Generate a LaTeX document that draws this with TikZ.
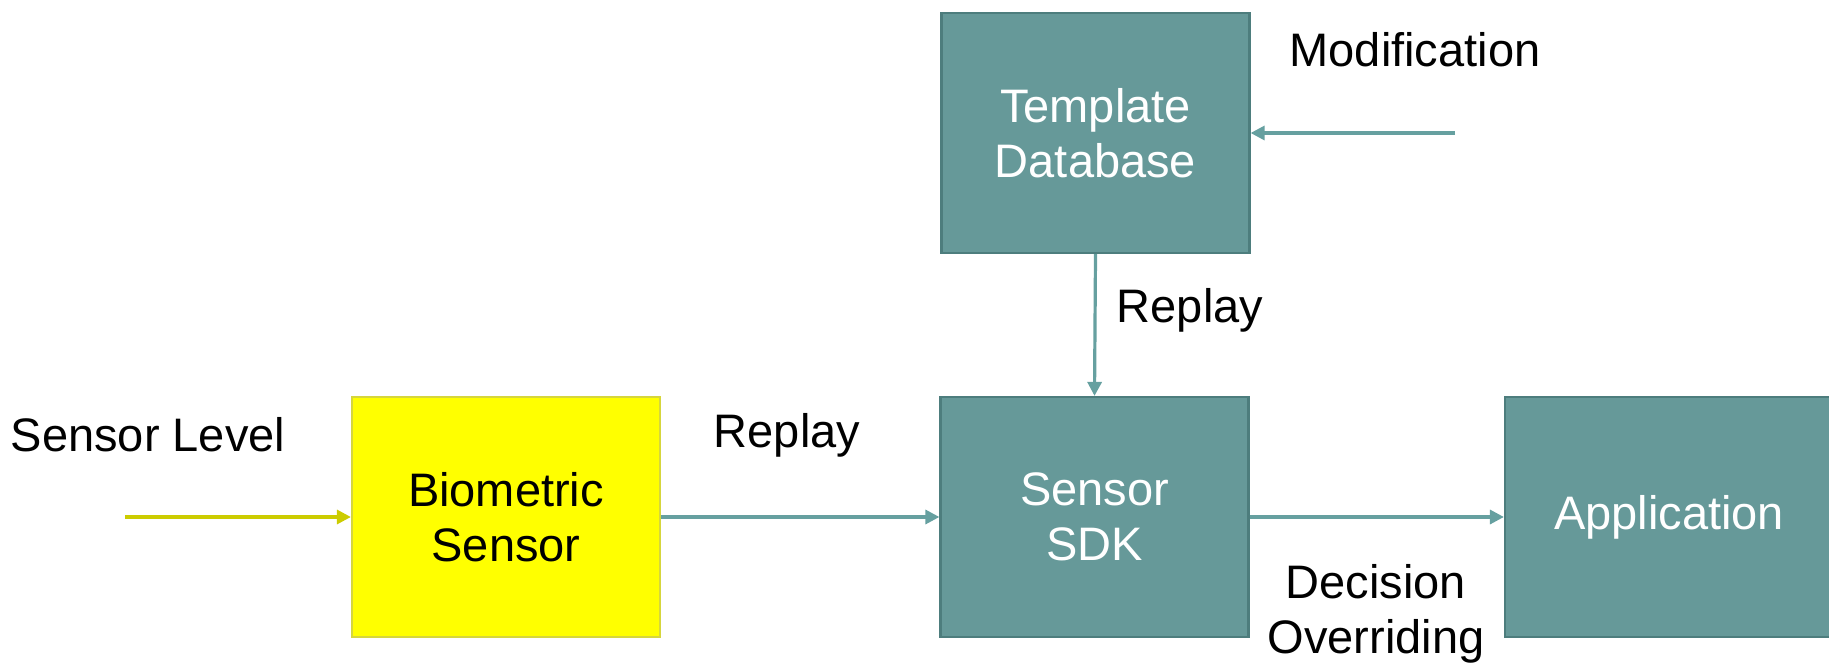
\documentclass[tikz,border=0pt]{standalone}
\usepackage{fontspec}
\setmainfont{Liberation Sans}
\usetikzlibrary{arrows.meta}
\definecolor{tealfill}{RGB}{102,153,153}
\definecolor{tealedge}{RGB}{77,125,125}
\definecolor{tealline}{RGB}{102,160,160}
\definecolor{yelfill}{RGB}{255,255,0}
\definecolor{yeledge}{RGB}{214,214,60}
\definecolor{yelline}{RGB}{204,204,0}
\tikzset{
  blockbase/.style={draw, line width=1.1pt, minimum width=154pt, minimum height=120pt,
    align=center, inner sep=0pt, font=\fontsize{23.5}{27.5}\selectfont},
  tealbox/.style={blockbase, fill=tealfill, draw=tealedge, text=white},
  yelbox/.style={blockbase, fill=yelfill, draw=yeledge, text=black},
  lbl/.style={align=center, inner sep=0pt, font=\fontsize{23.5}{27.5}\selectfont},
  flow/.style={draw=tealline, line width=1.6pt, -{Triangle[length=7pt,width=7pt]}},
  yflow/.style={draw=yelline, line width=1.6pt, -{Triangle[length=7pt,width=7pt]}}
}
\begin{document}
\begin{tikzpicture}[x=0.5pt,y=-0.5pt]
\useasboundingbox (0,0) rectangle (1829,663);
% blocks
\node[yelbox] (bio) at (506,517) {Biometric\\Sensor};
\node[tealbox] (sdk) at (1094.5,517) {Sensor\\SDK};
\node[tealbox, minimum width=164pt] (app) at (1669,517) {Application};
\node[tealbox] (tdb) at (1095.5,133) {Template\\Database};
% free ends of the incoming arrows
\coordinate (sensorin) at (125,517);
\coordinate (modin) at (1455,133);
% connectors
\draw[yflow] (sensorin) -- (bio.west);
\draw[flow] (bio.east) -- (sdk.west);
\draw[flow] (sdk.east) -- (app.west);
\draw[flow] (tdb.south) -- (sdk.north);
\draw[flow] (modin) -- (tdb.east);
% labels
\node[lbl] (lsensor) at (148,435) {Sensor Level};
\node[lbl] (lreplay1) at (787,435) {Replay};
\node[lbl] (lreplay2) at (1190,310) {Replay};
\node[lbl] (lmod) at (1415,50) {Modification};
\node[lbl] (ldec) at (1376,614) {Decision\\Overriding};
\end{tikzpicture}
\end{document}
